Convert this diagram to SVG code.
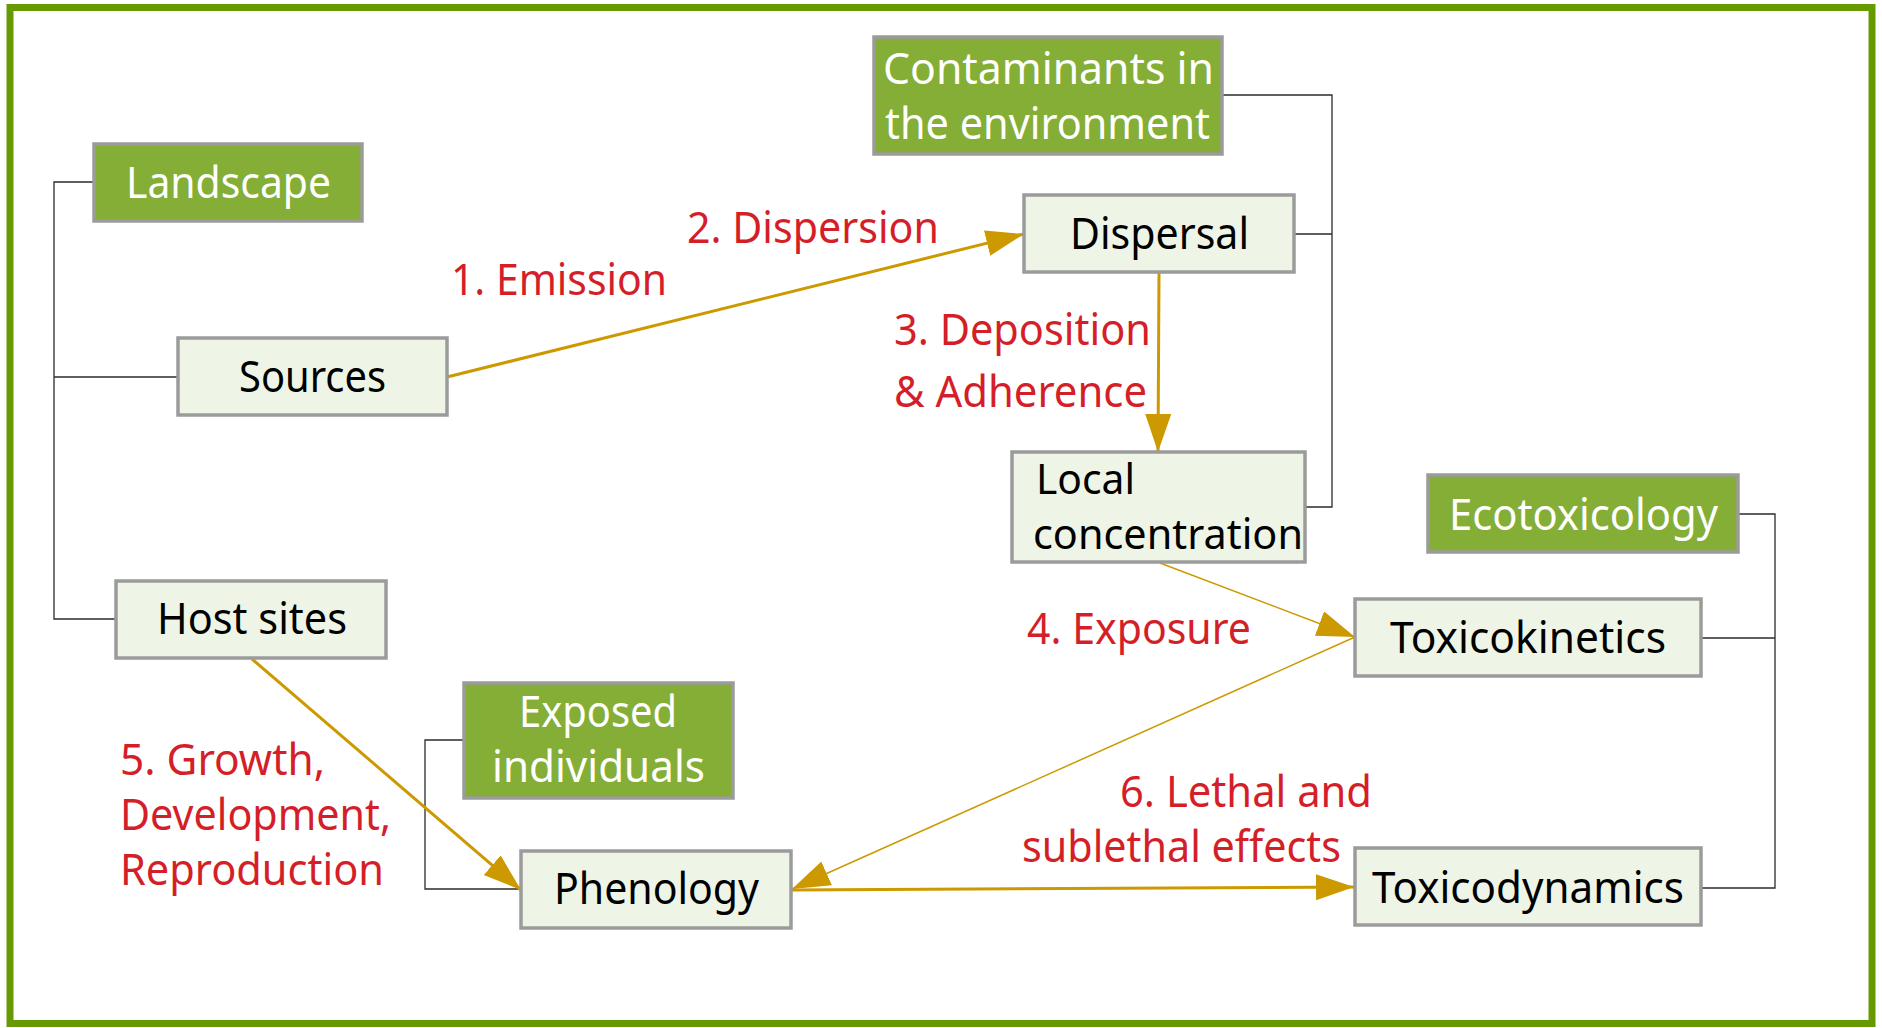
<svg xmlns="http://www.w3.org/2000/svg" width="1882" height="1028" viewBox="0 0 1882 1028">
  <style>
    .frame { fill: #ffffff; stroke: #679a02; stroke-width: 7; }
    .head rect { fill: #84ae35; stroke: #9b9b9b; stroke-width: 3.5; }
    .item rect { fill: #eef5e7; stroke: #9b9b9b; stroke-width: 3.5; }
    text { font-family: "Noto Sans", "Open Sans", "DejaVu Sans", sans-serif; font-size: 44px; }
    .head text { fill: #ffffff; }
    .item text { fill: #000000; }
    .lbl { fill: #d41f29; }
    .tree { fill: none; stroke: #2b2b2b; stroke-width: 1.3; }
    .flow { fill: none; stroke: #cc9900; }
    .thick { stroke-width: 3; }
    .thin { stroke-width: 1.5; }
  </style>
  <defs>
    <marker id="arrow" markerUnits="userSpaceOnUse" markerWidth="40" markerHeight="28" refX="38" refY="13" orient="auto">
      <path d="M0,0 L38,13 L0,26 Z" fill="#cc9900"/>
    </marker>
  </defs>

  <!-- outer frame -->
  <rect class="frame" x="10" y="7.5" width="1862" height="1016"/>

  <g id="connectors">
    <!-- hierarchy brackets -->
    <g id="brackets">
      <path class="tree" d="M94,182 H54 V619 H116 M54,377 H178"/>
      <path class="tree" d="M1222,95 H1332 V507 H1305 M1295,234 H1332"/>
      <path class="tree" d="M463,740 H425 V889 H521"/>
      <path class="tree" d="M1738,514 H1775 V888 H1701 M1701,638 H1775"/>
    </g>
    <!-- process arrows -->
    <g id="flows">
      <path class="flow thick" d="M447,377 L1024,234" marker-end="url(#arrow)"/>
      <path class="flow thick" d="M1159,273 L1158,452" marker-end="url(#arrow)"/>
      <path class="flow thin" d="M1160,563 L1355,637" marker-end="url(#arrow)"/>
      <path class="flow thin" d="M1355,637 L792,889" marker-end="url(#arrow)"/>
      <path class="flow thick" d="M252,659 L521,890" marker-end="url(#arrow)"/>
      <path class="flow thick" d="M791,890 L1354,887" marker-end="url(#arrow)"/>
    </g>
    <g id="flow-labels">
      <text class="lbl" x="451" y="295" textLength="216" lengthAdjust="spacingAndGlyphs">1. Emission</text>
      <text class="lbl" x="687" y="243" textLength="252" lengthAdjust="spacingAndGlyphs">2. Dispersion</text>
      <text class="lbl" x="894" y="345" textLength="257" lengthAdjust="spacingAndGlyphs">3. Deposition</text>
      <text class="lbl" x="894" y="407" textLength="253" lengthAdjust="spacingAndGlyphs">&amp; Adherence</text>
      <text class="lbl" x="1027" y="644" textLength="224" lengthAdjust="spacingAndGlyphs">4. Exposure</text>
      <text class="lbl" x="120" y="775" textLength="205" lengthAdjust="spacingAndGlyphs">5. Growth,</text>
      <text class="lbl" x="120" y="830" textLength="271" lengthAdjust="spacingAndGlyphs">Development,</text>
      <text class="lbl" x="120" y="885" textLength="264" lengthAdjust="spacingAndGlyphs">Reproduction</text>
      <text class="lbl" x="1120" y="807" textLength="252" lengthAdjust="spacingAndGlyphs">6. Lethal and</text>
      <text class="lbl" x="1022" y="862" textLength="319" lengthAdjust="spacingAndGlyphs">sublethal effects</text>
    </g>
  </g>

  <!-- nodes -->
  <g id="contaminants" class="head">
    <rect x="874" y="37" width="348" height="117"/>
    <text x="883" y="84" textLength="331" lengthAdjust="spacingAndGlyphs">Contaminants in</text>
    <text x="885" y="139" textLength="325" lengthAdjust="spacingAndGlyphs">the environment</text>
  </g>
  <g id="landscape" class="head">
    <rect x="94" y="144" width="268" height="77"/>
    <text x="126" y="198" textLength="205" lengthAdjust="spacingAndGlyphs">Landscape</text>
  </g>
  <g id="dispersal" class="item">
    <rect x="1024" y="195" width="270" height="77"/>
    <text x="1070" y="249" textLength="179" lengthAdjust="spacingAndGlyphs">Dispersal</text>
  </g>
  <g id="sources" class="item">
    <rect x="178" y="338" width="269" height="77"/>
    <text x="239" y="392" textLength="147" lengthAdjust="spacingAndGlyphs">Sources</text>
  </g>
  <g id="local-concentration" class="item">
    <rect x="1012" y="452" width="293" height="110"/>
    <text x="1036" y="494" textLength="99" lengthAdjust="spacingAndGlyphs" style="font-size:42px">Local</text>
    <text x="1033" y="549" textLength="270" lengthAdjust="spacingAndGlyphs" style="font-size:42px">concentration</text>
  </g>
  <g id="ecotoxicology" class="head">
    <rect x="1428" y="475" width="310" height="77"/>
    <text x="1449" y="530" textLength="269" lengthAdjust="spacingAndGlyphs">Ecotoxicology</text>
  </g>
  <g id="host-sites" class="item">
    <rect x="116" y="581" width="270" height="77"/>
    <text x="157" y="634" textLength="190" lengthAdjust="spacingAndGlyphs">Host sites</text>
  </g>
  <g id="toxicokinetics" class="item">
    <rect x="1355" y="599" width="346" height="77"/>
    <text x="1390" y="653" textLength="276" lengthAdjust="spacingAndGlyphs">Toxicokinetics</text>
  </g>
  <g id="exposed-individuals" class="head">
    <rect x="464" y="683" width="269" height="115"/>
    <text x="519" y="727" textLength="158" lengthAdjust="spacingAndGlyphs">Exposed</text>
    <text x="492" y="782" textLength="213" lengthAdjust="spacingAndGlyphs">individuals</text>
  </g>
  <g id="phenology" class="item">
    <rect x="521" y="851" width="270" height="77"/>
    <text x="554" y="904" textLength="205" lengthAdjust="spacingAndGlyphs">Phenology</text>
  </g>
  <g id="toxicodynamics" class="item">
    <rect x="1355" y="848" width="346" height="77"/>
    <text x="1372" y="903" textLength="312" lengthAdjust="spacingAndGlyphs">Toxicodynamics</text>
  </g>
</svg>
